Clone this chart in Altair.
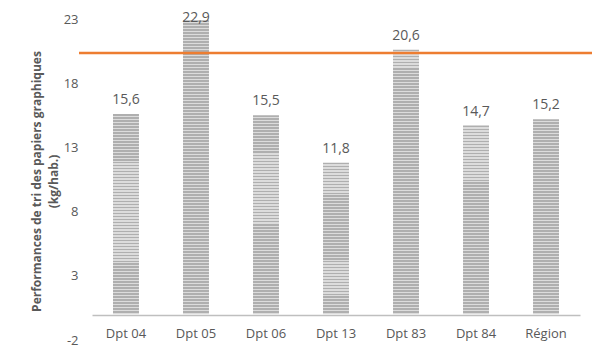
import altair as alt
import pandas as pd

categories = ["Dpt 04", "Dpt 05", "Dpt 06", "Dpt 13", "Dpt 83", "Dpt 84", "Région"]
values = [15.6, 22.9, 15.5, 11.8, 20.6, 14.7, 15.2]
target = [20.35]
y_ticks = [-2, 3, 8, 13, 18, 23]
y_title = ["Performances de tri des papiers graphiques", "(kg/hab.)"]

df = pd.DataFrame({"cat": categories, "val": values})
df_target = pd.DataFrame({"t": target})

FONT = "Open Sans"
GREY = "#595959"
W, H = 488, 321
Y_MIN, Y_MAX = -2, 23
PX_PER_UNIT = H / (Y_MAX - Y_MIN)
STRIPE_PX = 3.0


def stripe_gradient(val):
    # horizontal stripe pattern (about 3px period) imitated by a banded gradient
    n = max(1, round(val * PX_PER_UNIT / STRIPE_PX))
    stops = []
    for i in range(n):
        a = i / n
        b = (i + 0.55) / n
        c = (i + 1) / n
        stops += [
            alt.GradientStop(color="#afafaf", offset=a),
            alt.GradientStop(color="#afafaf", offset=b),
            alt.GradientStop(color="#dcdcdc", offset=b),
            alt.GradientStop(color="#dcdcdc", offset=c),
        ]
    return alt.LinearGradient(gradient="linear", stops=stops, x1=0, x2=0, y1=0, y2=1)


x_scale = alt.Scale(domain=categories, paddingInner=0.629, paddingOuter=0.3)
x_axis = alt.Axis(
    title=None, labelAngle=0, domain=True, domainColor="#bfbfbf", domainWidth=1.5,
    ticks=False, offset=-25, labelPadding=12, labelFont=FONT, labelFontSize=13,
    labelColor=GREY,
)
y_scale = alt.Scale(domain=[Y_MIN, Y_MAX], nice=False, zero=False)
y_axis = alt.Axis(
    values=y_ticks, grid=False, domain=False, ticks=False, labelPadding=14,
    labelFont=FONT, labelFontSize=13, labelColor=GREY,
    labelExpr="replace(datum.label, '\u2212', '-')",
    title=y_title, titleFont=FONT, titleFontSize=12, titleFontWeight="bold",
    titleColor=GREY, titleX=-56, titleY=162, titleAngle=-90,
    titleAlign="center", titleBaseline="middle", titleLineHeight=17,
)

layers = []
for cat, val in zip(categories, values):
    layers.append(
        alt.Chart(df)
        .transform_filter(alt.datum.cat == cat)
        .mark_bar(fill=stripe_gradient(val))
        .encode(
            x=alt.X("cat:N", sort=categories, scale=x_scale, axis=x_axis),
            y=alt.Y("val:Q", scale=y_scale, axis=y_axis),
            y2=alt.datum(0),
        )
    )

labels = alt.Chart(df).transform_calculate(
    lab="replace(format(datum.val, '.1f'), '.', ',')",
    ly="min(datum.val, 21.95)",
).mark_text(
    dy=-10, baseline="alphabetic", font=FONT, fontSize=14, color=GREY
).encode(
    x=alt.X("cat:N", sort=categories, scale=x_scale, axis=x_axis),
    y=alt.Y("ly:Q", scale=y_scale, axis=y_axis),
    text="lab:N",
)

rule = alt.Chart(df_target).mark_rule(color="#ED7D31", strokeWidth=2.5).encode(
    y=alt.Y("t:Q", scale=y_scale, axis=y_axis),
    x=alt.value(-13),
    x2=alt.value(W + 15),
)

chart = alt.layer(*layers, labels, rule).properties(
    width=W,
    height=H,
    background="white",
    autosize=alt.AutoSizeParams(type="none"),
    padding={"left": 84, "top": 11, "right": 12, "bottom": 12},
).configure_view(stroke=None)

chart.save("out.html", embed_options={"renderer": "svg", "actions": False})
